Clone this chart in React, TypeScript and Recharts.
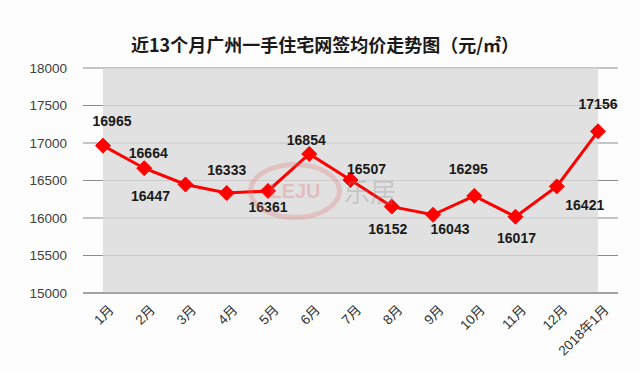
import { LineChart, Line, XAxis, YAxis, CartesianGrid, LabelList, ReferenceArea } from 'recharts';

const months = ['1月', '2月', '3月', '4月', '5月', '6月', '7月', '8月', '9月', '10月', '11月', '12月', '2018年1月'];
const prices = [16965, 16664, 16447, 16333, 16361, 16854, 16507, 16152, 16043, 16295, 16017, 16421, 17156];
const yTicks = [15000, 15500, 16000, 16500, 17000, 17500, 18000];

// label nudges (dx, dy) relative to each point, like the hand-placed labels in the original
const labelNudge: [number, number][] = [
    [9, -25], [4, -15], [-35, 12], [0, -23], [0, 16], [-3, -14], [16, -11],
    [-4, 22], [17, 14], [-6, -27], [1, 21], [28, 19], [0, -27],
];

const data = months.map((m, i) => ({ month: m, price: prices[i] }));

const FONT = '"Liberation Sans", "Noto Sans CJK SC", sans-serif';

function Diamond(props: any) {
    const { cx, cy } = props;
    if (cx == null || cy == null) return null;
    const r = 7.5;
    return (
        <polygon
            points={`${cx},${cy - r} ${cx + r},${cy} ${cx},${cy + r} ${cx - r},${cy}`}
            fill="#ff0000"
            stroke="#ff0000"
            strokeWidth={1}
        />
    );
}

function MonthTick(props: any) {
    const { x, y, payload } = props;
    return (
        <g transform={`translate(${x + 6},${y + 4})`}>
            <text
                x={0}
                y={0}
                dy={8}
                textAnchor="end"
                transform="rotate(-45)"
                fill="#333333"
                fontSize={13.5}
                fontFamily={FONT}
            >
                {payload.value}
            </text>
        </g>
    );
}

function PriceLabel(props: any) {
    const { x, y, value, index } = props;
    const [dx, dy] = labelNudge[index] || [0, -15];
    return (
        <text
            x={x + dx}
            y={y + dy}
            dy={5}
            textAnchor="middle"
            fill="#1a1a1a"
            fontSize={14}
            fontWeight="bold"
            fontFamily={FONT}
        >
            {value}
        </text>
    );
}

export default function App() {
    return (
        <div style={{ position: 'absolute', left: 0, top: 0, width: 640, height: 373, background: '#fdfdfd' }}>
            <div
                style={{
                    position: 'absolute',
                    left: 0,
                    top: 32,
                    width: 650,
                    textAlign: 'center',
                    fontFamily: '"Noto Sans CJK SC", sans-serif',
                    fontWeight: 'bold',
                    fontSize: 18,
                    color: '#1a1a1a',
                    lineHeight: '24px',
                }}
            >
                近13个月广州一手住宅网签均价走势图（元/㎡）
            </div>
            <div style={{ position: 'absolute', left: 0, top: 0 }}>
                <LineChart
                    width={640}
                    height={373}
                    data={data}
                    margin={{ top: 68, right: 22, left: 0, bottom: 0 }}
                >
                    <ReferenceArea y1={15000} y2={18000} fill="#d9d9d9" fillOpacity={0.8} stroke="none" ifOverflow="visible" />
                    <CartesianGrid vertical={false} stroke="#8c8c8c" strokeWidth={1} />
                    <XAxis
                        dataKey="month"
                        height={80}
                        padding={{ left: 20, right: 20 }}
                        tick={<MonthTick />}
                        tickLine={false}
                        axisLine={{ stroke: '#7f7f7f' }}
                        interval={0}
                    />
                    <YAxis
                        width={83}
                        domain={[15000, 18000]}
                        ticks={yTicks}
                        tickLine={false}
                        axisLine={false}
                        tickMargin={10}
                        tick={{ fill: '#404040', fontSize: 13.5, fontFamily: FONT }}
                    />
                    <Line
                        type="linear"
                        dataKey="price"
                        stroke="#ff0000"
                        strokeWidth={3}
                        dot={<Diamond />}
                        activeDot={false}
                        isAnimationActive={false}
                    >
                        <LabelList dataKey="price" content={<PriceLabel />} />
                    </Line>
                </LineChart>
            </div>
            {/* faint watermark */}
            <div
                style={{
                    position: 'absolute',
                    left: 248,
                    top: 162,
                    width: 94,
                    height: 58,
                    borderRadius: '50%',
                    border: '5px solid rgba(225,110,110,0.28)',
                    boxSizing: 'border-box',
                    color: 'rgba(225,110,110,0.32)',
                    fontFamily: FONT,
                    fontWeight: 'bold',
                    fontSize: 20,
                    textAlign: 'center',
                    lineHeight: '48px',
                    pointerEvents: 'none',
                }}
            >
                LEJU
            </div>
            <div
                style={{
                    position: 'absolute',
                    left: 344,
                    top: 176,
                    fontFamily: '"Noto Sans CJK SC", sans-serif',
                    fontSize: 26,
                    color: 'rgba(140,140,140,0.32)',
                    lineHeight: '30px',
                    pointerEvents: 'none',
                }}
            >
                乐居
            </div>
        </div>
    );
}
